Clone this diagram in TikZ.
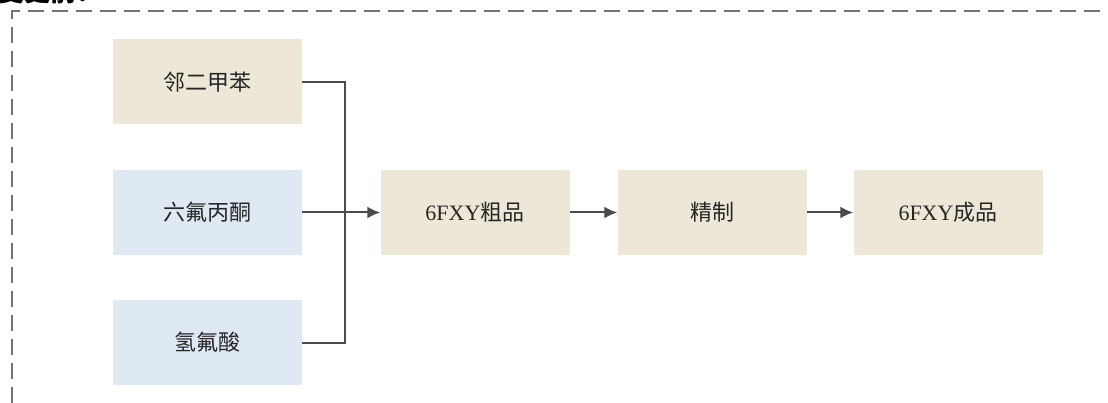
\documentclass[tikz,border=0pt]{standalone}
\usepackage{fontspec}
\setmainfont{Liberation Serif}
\newfontfamily\cjk{Noto Sans CJK SC}
\usetikzlibrary{arrows.meta}
\definecolor{beige}{RGB}{236,231,214}
\definecolor{lblue}{RGB}{223,233,243}
\definecolor{linec}{RGB}{75,75,75}
\definecolor{dashc}{RGB}{110,120,110}
\tikzset{
  box/.style={rectangle, minimum width=189pt, minimum height=85pt, inner sep=0pt, draw=none, text=black!85,
    font=\fontsize{22}{26}\selectfont},
  bbox/.style={box, fill=beige},
  lbox/.style={box, fill=lblue},
  conn/.style={draw=linec, line width=2pt},
  arr/.style={conn, -{Latex[length=13pt,width=12pt]}},
  frame/.style={draw=dashc, line width=1.2pt, dash pattern=on 16pt off 8pt}
}
\begin{document}
\begin{tikzpicture}[x=1pt,y=-1pt]
\useasboundingbox[fill=white] (0,0) rectangle (1108,403);
\node[anchor=base west, inner sep=0pt, font=\fontsize{26}{30}\selectfont\cjk\bfseries] (title) at (-2,1.5) {变更前：};
\draw[frame] (12,403) -- (12,11) -- (1108,11);
\node[bbox] (a) at (207.5,82) {\cjk 邻二甲苯};
\node[lbox] (b) at (207.5,212.5) {\cjk 六氟丙酮};
\node[lbox] (c) at (207.5,342.5) {\cjk 氢氟酸};
\node[bbox] (d) at (475,212.5) {6FXY\cjk 粗品};
\node[bbox] (e) at (712,212.5) {\cjk 精制};
\node[bbox] (f) at (948,212.5) {6FXY\cjk 成品};
\coordinate (j) at (345,212.5);
\draw[conn] (a.east) -| (j);
\draw[conn] (c.east) -| (j);
\draw[arr] (b.east) -- (d.west);
\draw[arr] (d.east) -- (e.west);
\draw[arr] (e.east) -- (f.west);
\end{tikzpicture}
\end{document}
